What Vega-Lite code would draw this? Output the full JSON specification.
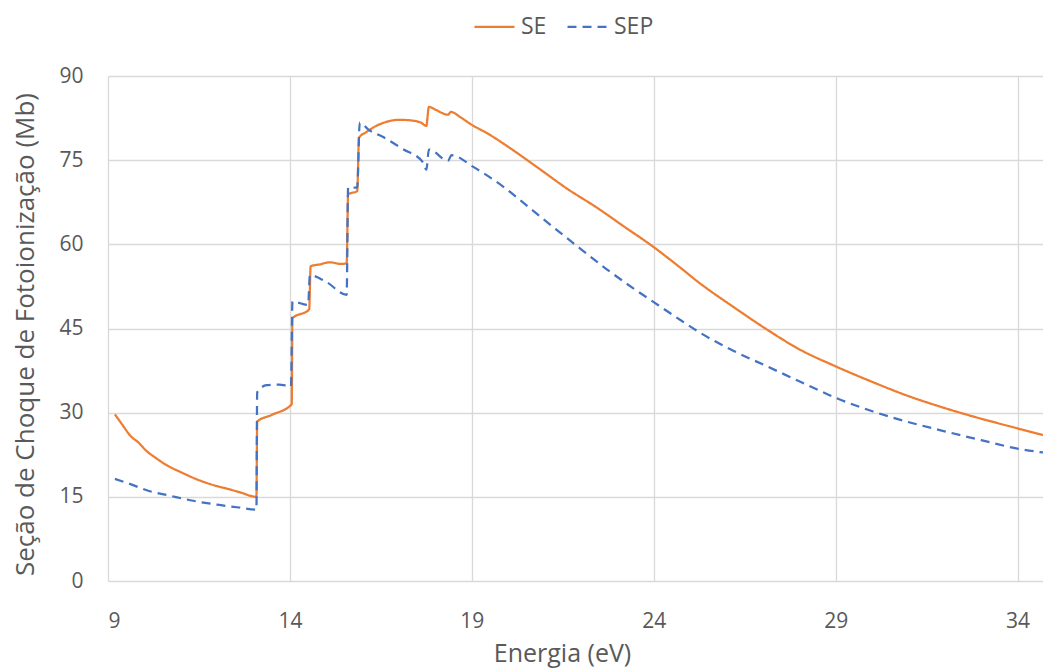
{
  "$schema": "https://vega.github.io/schema/vega-lite/v6.json",
  "width": 935,
  "height": 505,
  "autosize": {"type": "none"},
  "padding": {"left": 108, "top": 76, "right": 0, "bottom": 87},
  "background": "white",
  "config": {
    "view": {"stroke": null},
    "font": "Open Sans",
    "axis": {
      "labelFont": "Open Sans",
      "titleFont": "Open Sans",
      "labelColor": "#595959",
      "titleColor": "#595959",
      "labelFontSize": 21,
      "titleFontSize": 25,
      "titleFontWeight": "normal",
      "gridColor": "#D9D9D9",
      "gridWidth": 1.3,
      "domain": false,
      "ticks": false
    }
  },
  "data": {
    "values": [
      {"E": 9.19, "V": 29.7, "s": "SE"},
      {"E": 9.4, "V": 27.8, "s": "SE"},
      {"E": 9.6, "V": 26.0, "s": "SE"},
      {"E": 9.85, "V": 24.6, "s": "SE"},
      {"E": 10.07, "V": 23.1, "s": "SE"},
      {"E": 10.3, "V": 22.0, "s": "SE"},
      {"E": 10.57, "V": 20.8, "s": "SE"},
      {"E": 11.0, "V": 19.4, "s": "SE"},
      {"E": 11.53, "V": 17.9, "s": "SE"},
      {"E": 12.0, "V": 16.9, "s": "SE"},
      {"E": 12.3, "V": 16.4, "s": "SE"},
      {"E": 12.63, "V": 15.8, "s": "SE"},
      {"E": 13.08, "V": 15.0, "s": "SE"},
      {"E": 13.1, "V": 28.4, "s": "SE"},
      {"E": 13.5, "V": 29.6, "s": "SE"},
      {"E": 14.05, "V": 31.5, "s": "SE"},
      {"E": 14.07, "V": 46.8, "s": "SE"},
      {"E": 14.53, "V": 48.4, "s": "SE"},
      {"E": 14.57, "V": 56.1, "s": "SE"},
      {"E": 14.8, "V": 56.4, "s": "SE"},
      {"E": 15.1, "V": 56.8, "s": "SE"},
      {"E": 15.4, "V": 56.5, "s": "SE"},
      {"E": 15.56, "V": 56.6, "s": "SE"},
      {"E": 15.6, "V": 68.9, "s": "SE"},
      {"E": 15.85, "V": 69.5, "s": "SE"},
      {"E": 15.9, "V": 79.0, "s": "SE"},
      {"E": 16.1, "V": 80.0, "s": "SE"},
      {"E": 16.4, "V": 81.2, "s": "SE"},
      {"E": 16.7, "V": 81.9, "s": "SE"},
      {"E": 17.0, "V": 82.2, "s": "SE"},
      {"E": 17.3, "V": 82.1, "s": "SE"},
      {"E": 17.6, "V": 81.7, "s": "SE"},
      {"E": 17.75, "V": 81.1, "s": "SE"},
      {"E": 17.82, "V": 84.5, "s": "SE"},
      {"E": 18.0, "V": 84.0, "s": "SE"},
      {"E": 18.35, "V": 83.1, "s": "SE"},
      {"E": 18.42, "V": 83.6, "s": "SE"},
      {"E": 18.7, "V": 82.6, "s": "SE"},
      {"E": 18.95, "V": 81.5, "s": "SE"},
      {"E": 19.5, "V": 79.5, "s": "SE"},
      {"E": 20.04, "V": 77.2, "s": "SE"},
      {"E": 20.87, "V": 73.4, "s": "SE"},
      {"E": 21.6, "V": 70.0, "s": "SE"},
      {"E": 22.47, "V": 66.4, "s": "SE"},
      {"E": 23.2, "V": 63.1, "s": "SE"},
      {"E": 23.98, "V": 59.6, "s": "SE"},
      {"E": 24.7, "V": 56.0, "s": "SE"},
      {"E": 25.26, "V": 53.1, "s": "SE"},
      {"E": 26.2, "V": 48.8, "s": "SE"},
      {"E": 27.14, "V": 44.7, "s": "SE"},
      {"E": 28.0, "V": 41.3, "s": "SE"},
      {"E": 29.02, "V": 38.2, "s": "SE"},
      {"E": 30.0, "V": 35.5, "s": "SE"},
      {"E": 30.94, "V": 33.1, "s": "SE"},
      {"E": 31.86, "V": 31.1, "s": "SE"},
      {"E": 32.9, "V": 29.1, "s": "SE"},
      {"E": 34.0, "V": 27.2, "s": "SE"},
      {"E": 34.7, "V": 26.0, "s": "SE"},

      {"E": 9.19, "V": 18.2, "s": "SEP"},
      {"E": 9.6, "V": 17.3, "s": "SEP"},
      {"E": 10.15, "V": 16.0, "s": "SEP"},
      {"E": 10.7, "V": 15.2, "s": "SEP"},
      {"E": 11.34, "V": 14.3, "s": "SEP"},
      {"E": 12.0, "V": 13.6, "s": "SEP"},
      {"E": 12.6, "V": 13.1, "s": "SEP"},
      {"E": 13.08, "V": 12.7, "s": "SEP"},
      {"E": 13.1, "V": 33.6, "s": "SEP"},
      {"E": 13.36, "V": 34.9, "s": "SEP"},
      {"E": 13.7, "V": 35.0, "s": "SEP"},
      {"E": 14.03, "V": 34.7, "s": "SEP"},
      {"E": 14.07, "V": 49.8, "s": "SEP"},
      {"E": 14.5, "V": 49.2, "s": "SEP"},
      {"E": 14.55, "V": 54.5, "s": "SEP"},
      {"E": 15.0, "V": 53.3, "s": "SEP"},
      {"E": 15.56, "V": 51.0, "s": "SEP"},
      {"E": 15.6, "V": 70.1, "s": "SEP"},
      {"E": 15.85, "V": 70.1, "s": "SEP"},
      {"E": 15.92, "V": 81.7, "s": "SEP"},
      {"E": 16.15, "V": 80.5, "s": "SEP"},
      {"E": 16.6, "V": 79.0, "s": "SEP"},
      {"E": 17.1, "V": 77.0, "s": "SEP"},
      {"E": 17.66, "V": 74.6, "s": "SEP"},
      {"E": 17.75, "V": 73.3, "s": "SEP"},
      {"E": 17.82, "V": 76.9, "s": "SEP"},
      {"E": 18.35, "V": 74.9, "s": "SEP"},
      {"E": 18.44, "V": 75.9, "s": "SEP"},
      {"E": 19.04, "V": 73.8, "s": "SEP"},
      {"E": 19.86, "V": 70.3, "s": "SEP"},
      {"E": 20.55, "V": 66.7, "s": "SEP"},
      {"E": 21.25, "V": 63.0, "s": "SEP"},
      {"E": 21.97, "V": 59.3, "s": "SEP"},
      {"E": 22.7, "V": 55.6, "s": "SEP"},
      {"E": 23.43, "V": 52.2, "s": "SEP"},
      {"E": 24.0, "V": 49.7, "s": "SEP"},
      {"E": 24.62, "V": 47.0, "s": "SEP"},
      {"E": 25.26, "V": 44.3, "s": "SEP"},
      {"E": 26.2, "V": 41.0, "s": "SEP"},
      {"E": 27.1, "V": 38.3, "s": "SEP"},
      {"E": 28.0, "V": 35.6, "s": "SEP"},
      {"E": 29.02, "V": 32.6, "s": "SEP"},
      {"E": 30.03, "V": 30.2, "s": "SEP"},
      {"E": 30.9, "V": 28.5, "s": "SEP"},
      {"E": 31.86, "V": 26.9, "s": "SEP"},
      {"E": 33.0, "V": 25.1, "s": "SEP"},
      {"E": 34.0, "V": 23.6, "s": "SEP"},
      {"E": 34.7, "V": 22.9, "s": "SEP"}
    ]
  },
  "mark": {"type": "line", "strokeWidth": 2.25, "clip": true, "interpolate": "monotone"},
  "encoding": {
    "x": {
      "field": "E",
      "type": "quantitative",
      "title": "Energia (eV)",
      "scale": {"domain": [9, 34.7], "nice": false, "zero": false},
      "axis": {"values": [9, 14, 19, 24, 29, 34], "labelPadding": 29, "titlePadding": 10, "titleX": 454}
    },
    "y": {
      "field": "V",
      "type": "quantitative",
      "title": "Seção de Choque de Fotoionização (Mb)",
      "scale": {"domain": [0, 90], "nice": false},
      "axis": {"values": [0, 15, 30, 45, 60, 75, 90], "labelPadding": 25, "titleX": -70, "titleY": 258, "titleFontSize": 26}
    },
    "color": {
      "field": "s",
      "type": "nominal",
      "scale": {"domain": ["SE", "SEP"], "range": ["#ED7D31", "#4472C4"]},
      "legend": {
        "title": null,
        "orient": "none",
        "direction": "horizontal",
        "legendX": 365,
        "legendY": -71,
        "symbolType": "stroke",
        "symbolSize": 1600,
        "symbolStrokeWidth": 2.25,
        "labelFontSize": 23,
        "labelColor": "#595959",
        "labelFont": "Open Sans",
        "labelOffset": 5,
        "columnPadding": 16
      }
    },
    "strokeDash": {
      "field": "s",
      "type": "nominal",
      "scale": {"domain": ["SE", "SEP"], "range": [[1, 0], [9, 6]]},
      "legend": {
        "title": null,
        "orient": "none",
        "direction": "horizontal",
        "legendX": 365,
        "legendY": -71,
        "symbolType": "stroke",
        "symbolSize": 1600,
        "symbolStrokeWidth": 2.25,
        "labelFontSize": 23,
        "labelColor": "#595959",
        "labelFont": "Open Sans",
        "labelOffset": 5,
        "columnPadding": 16
      }
    }
  }
}
